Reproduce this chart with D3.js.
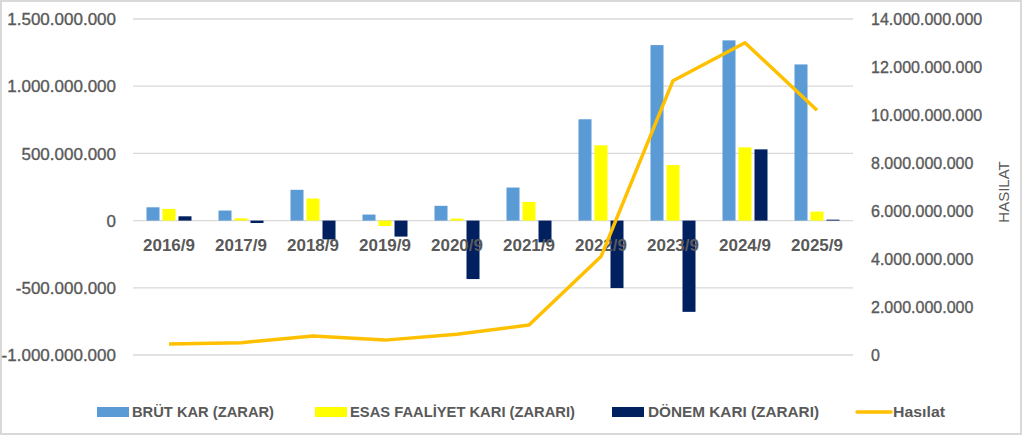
<!DOCTYPE html>
<html>
<head>
<meta charset="utf-8">
<script src="https://cdn.jsdelivr.net/npm/d3@7"></script>
<style>
  body { margin: 0; background: #fff; }
  svg text { font-family: "Liberation Sans", Arial, sans-serif; fill: #595959; }
  .tick { stroke: #595959; stroke-width: 0.35px; }
</style>
</head>
<body>
<script>
// data
var categories = ["2016/9", "2017/9", "2018/9", "2019/9", "2020/9", "2021/9", "2022/9", "2023/9", "2024/9", "2025/9"];
var brutKar    = [99e6, 75e6, 229e6, 45e6, 110e6, 246e6, 754e6, 1306e6, 1341e6, 1162e6];
var esasKar    = [87e6, 17e6, 164e6, -40e6, 15e6, 139e6, 560e6, 413e6, 545e6, 67e6];
var donemKar   = [32e6, -18e6, -140e6, -119e6, -435e6, -162e6, -502e6, -679e6, 530e6, 7e6];
var hasilat    = [0.46e9, 0.51e9, 0.79e9, 0.62e9, 0.86e9, 1.25e9, 4.1e9, 11.43e9, 13.01e9, 10.2e9];
var leftTicks  = [-1e9, -5e8, 0, 5e8, 1e9, 1.5e9];
var rightTicks = [0, 2e9, 4e9, 6e9, 8e9, 10e9, 12e9, 14e9];
var seriesNames = ["BRÜT KAR (ZARAR)", "ESAS FAALİYET KARI (ZARARI)", "DÖNEM KARI (ZARARI)"];
var seriesColors = ["#5B9BD5", "#FFFF00", "#002060"];
var lineName = "Hasılat";

var W = 1024, H = 438;
var tr = d3.formatLocale({decimal: ",", thousands: ".", grouping: [3], currency: ["", ""], minus: "-"});
var fmt = tr.format(",");

var svg = d3.select("body").append("svg")
    .attr("width", W)
    .attr("height", H);

// chart frame
svg.append("rect")
    .attr("x", 1).attr("y", 1)
    .attr("width", 1020).attr("height", 433)
    .attr("fill", "#fff")
    .attr("stroke", "#d9d9d9")
    .attr("stroke-width", 2);

var x = d3.scaleBand().domain(categories).range([133, 853]);
var x1 = d3.scaleBand().domain(d3.range(3)).range([0, 45]).paddingInner(3 / 16);
var yL = d3.scaleLinear().domain([-1e9, 1.5e9]).range([355, 19]);
var yR = d3.scaleLinear().domain([0, 14e9]).range([355, 19]);

// gridlines
svg.append("g").selectAll("line")
    .data(leftTicks)
    .enter().append("line")
    .attr("x1", 133).attr("x2", 853)
    .attr("y1", function(d){ return yL(d); })
    .attr("y2", function(d){ return yL(d); })
    .attr("stroke", "#d9d9d9")
    .attr("stroke-width", 1.3);

// left axis labels
svg.append("g").selectAll("text")
    .data(leftTicks)
    .enter().append("text")
    .attr("class", "tick")
    .attr("x", 116)
    .attr("y", function(d){ return yL(d); })
    .attr("dy", "0.36em")
    .attr("text-anchor", "end")
    .style("font-size", "17px")
    .text(function(d){ return fmt(d); });

// right axis labels
svg.append("g").selectAll("text")
    .data(rightTicks)
    .enter().append("text")
    .attr("class", "tick")
    .attr("x", 871)
    .attr("y", function(d){ return yR(d); })
    .attr("dy", "0.36em")
    .style("font-size", "16px")
    .text(function(d){ return fmt(d); });

svg.append("text")
    .attr("transform", "translate(1009,192) rotate(-90)")
    .attr("text-anchor", "middle")
    .style("font-size", "15px")
    .text("HASILAT");

// bars
var series = [brutKar, esasKar, donemKar];
series.forEach(function(vals, s){
    svg.append("g").selectAll("rect")
        .data(vals)
        .enter().append("rect")
        .attr("x", function(d, i){ return x(categories[i]) + x.bandwidth() / 2 - 22.5 + x1(s); })
        .attr("y", function(d){ return Math.min(yL(d), yL(0)); })
        .attr("width", x1.bandwidth())
        .attr("height", function(d){ return Math.abs(yL(d) - yL(0)); })
        .attr("fill", seriesColors[s]);
});

// category labels
svg.append("g").selectAll("text")
    .data(categories)
    .enter().append("text")
    .attr("x", function(d){ return x(d) + x.bandwidth() / 2; })
    .attr("y", 245)
    .attr("dy", "0.36em")
    .attr("text-anchor", "middle")
    .style("font-size", "17px")
    .style("font-weight", "bold")
    .text(function(d){ return d; });

// revenue line
var line = d3.line()
    .x(function(d, i){ return x(categories[i]) + x.bandwidth() / 2; })
    .y(function(d){ return yR(d); });

svg.append("path")
    .datum(hasilat)
    .attr("d", line)
    .attr("fill", "none")
    .attr("stroke", "#FFC000")
    .attr("stroke-width", 3.5)
    .attr("stroke-linejoin", "round");

// legend
var legY = 412;
var legItems = [
    {sx: 97, tx: 132, w: 142},
    {sx: 315, tx: 350, w: 225},
    {sx: 612, tx: 648, w: 171}
];
legItems.forEach(function(it, s){
    svg.append("rect")
        .attr("x", it.sx).attr("y", legY - 5)
        .attr("width", 32).attr("height", 10)
        .attr("fill", seriesColors[s]);
    svg.append("text")
        .attr("x", it.tx).attr("y", legY)
        .attr("dy", "0.36em")
        .attr("textLength", it.w)
        .attr("lengthAdjust", "spacingAndGlyphs")
        .style("font-size", "15px")
        .style("font-weight", "bold")
        .text(seriesNames[s]);
});
svg.append("line")
    .attr("x1", 857).attr("x2", 891)
    .attr("y1", legY).attr("y2", legY)
    .attr("stroke", "#FFC000")
    .attr("stroke-width", 3.5)
    .attr("stroke-linecap", "round");
svg.append("text")
    .attr("x", 893).attr("y", legY)
    .attr("dy", "0.36em")
    .attr("textLength", 52)
    .attr("lengthAdjust", "spacingAndGlyphs")
    .style("font-size", "15px")
    .style("font-weight", "bold")
    .text(lineName);
</script>
</body>
</html>
